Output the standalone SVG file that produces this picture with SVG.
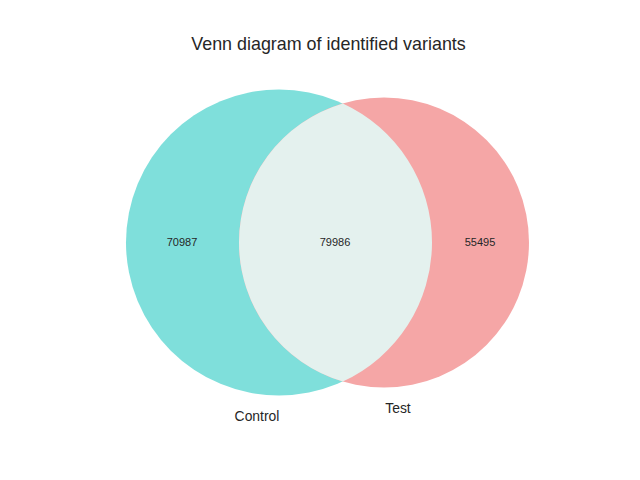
<svg xmlns="http://www.w3.org/2000/svg" width="640" height="480" viewBox="0 0 640 480">
<style>
text{font-family:"Liberation Sans",Arial,sans-serif;fill:#262626}
.num{font-size:11px;text-anchor:middle}
.lbl{font-size:13.9px;text-anchor:middle}
.title{font-size:17.9px;text-anchor:middle}
</style>
<rect width="640" height="480" fill="#ffffff"/>
<text class="title" x="328.5" y="50">Venn diagram of identified variants</text>
<g id="control">
<circle cx="279" cy="242.5" r="153" fill="#7fdfdb"/>
</g>
<g id="test">
<circle cx="384" cy="242.5" r="145" fill="#f5a6a6"/>
</g>
<g id="intersection">
<path d="M342.85 103.46 A145 145 0 0 0 342.85 381.54 A153 153 0 0 0 342.85 103.46 Z" fill="#e4f1ee"/>
</g>
<g id="labels">
<text class="num" x="182" y="246">70987</text>
<text class="num" x="335" y="246">79986</text>
<text class="num" x="480" y="246">55495</text>
<text class="lbl" x="257" y="421">Control</text>
<text class="lbl" x="398" y="413">Test</text>
</g>
<g id="connectors"></g>
</svg>
